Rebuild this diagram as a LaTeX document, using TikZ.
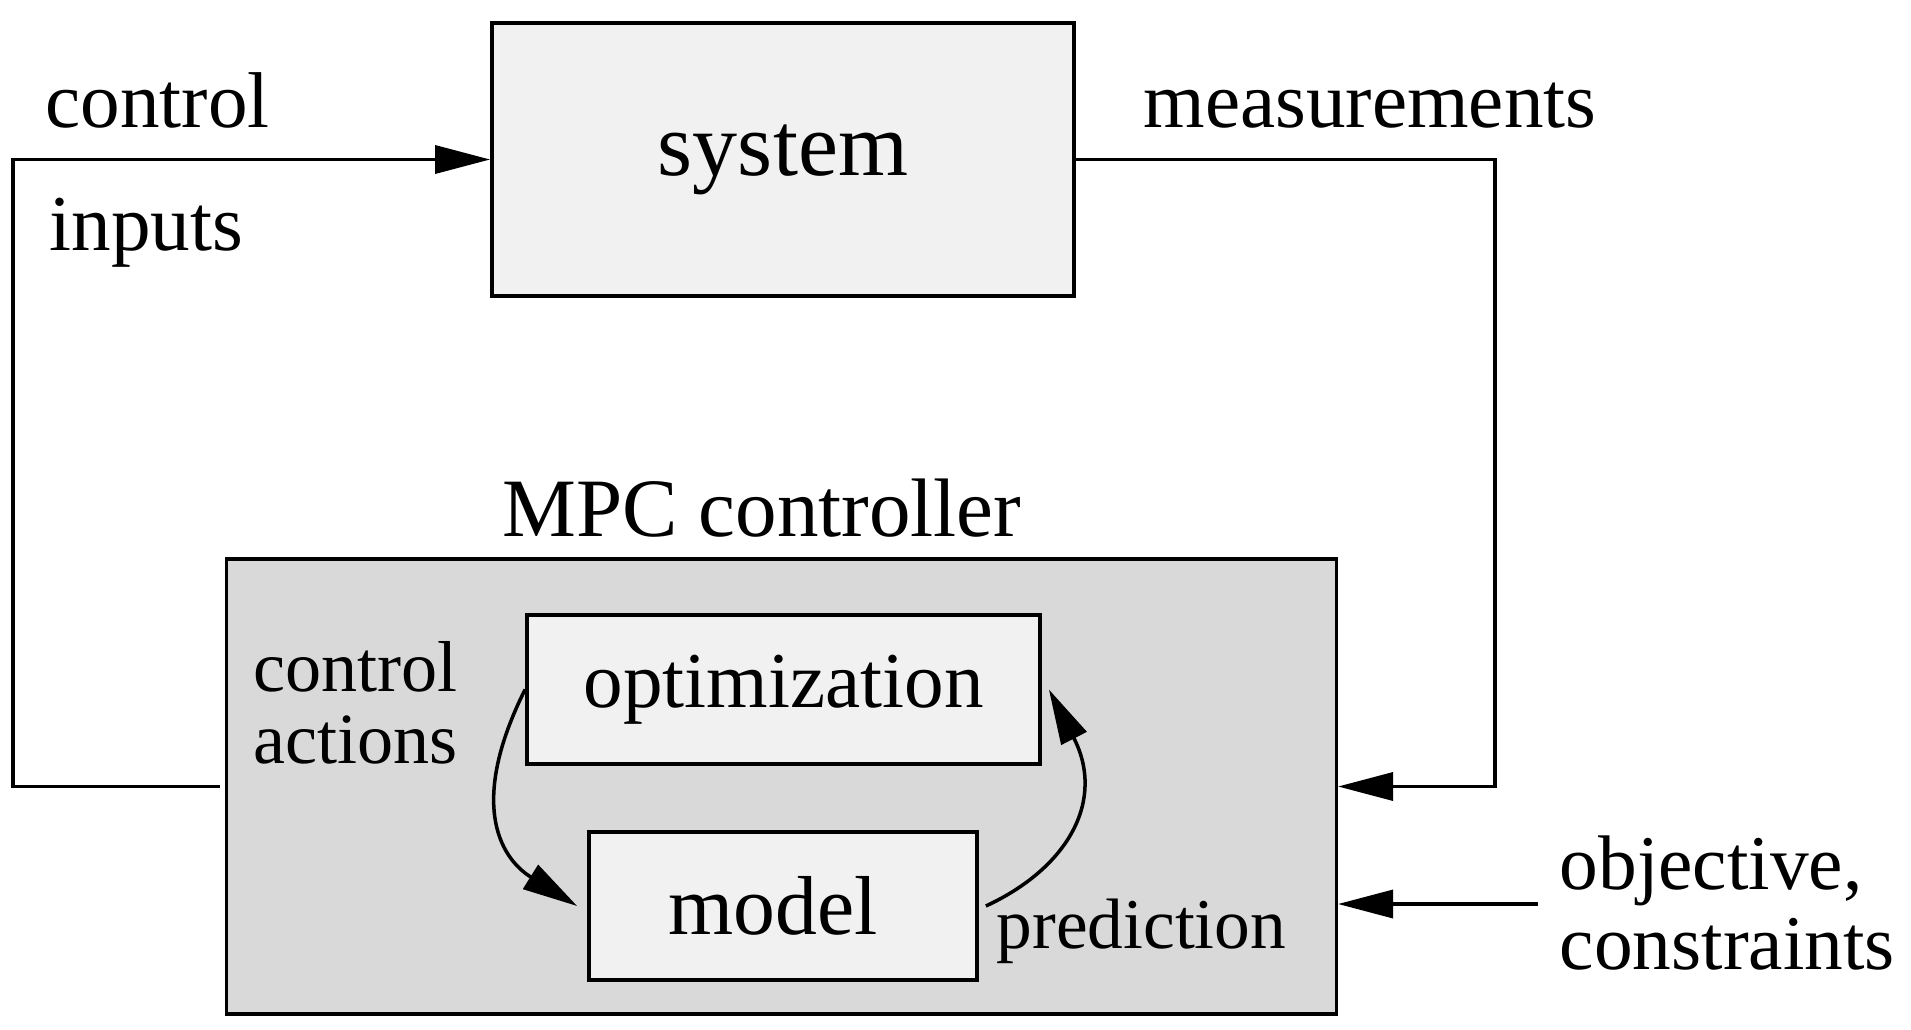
\documentclass[tikz,border=0pt]{standalone}
\usepackage{fontspec}
\setmainfont{Liberation Serif}
\usetikzlibrary{arrows.meta}
\definecolor{hellgrau}{gray}{0.945}
\definecolor{mpcgrau}{gray}{0.85}
\tikzset{
	block/.style={draw=black, line width=1pt, fill=hellgrau, inner sep=0pt},
	pfeil/.style={line width=1pt, -{Triangle[length=5.5mm,width=2.8mm]}},
	txt/.style={inner sep=0pt, font=\fontsize{22.5}{26}\selectfont},
}
\begin{document}
\begin{tikzpicture}[x=0.01cm, y=-0.01cm]
	\useasboundingbox (0,0) rectangle (1911,1030);
	% Bloecke
	\node[block, minimum width=5.82cm, minimum height=2.73cm] (sys) at (783,159.5)
	{\fontsize{25.6}{30}\selectfont system};
	\node[block, fill=mpcgrau, minimum width=11.09cm, minimum height=4.55cm] (mpc)
	at (781.5,786.5) {};
	\node[block, minimum width=5.13cm, minimum height=1.49cm] (opt) at (783.5,689.5)
	{\fontsize{22.5}{26}\selectfont optimization};
	\node[block, minimum width=3.88cm, minimum height=1.48cm] (mdl) at (783,906)
	{\fontsize{23.8}{28}\selectfont model\kern0.2cm};
	% Beschriftungen
	\node[txt, anchor=base west] (ctltxt) at (45,127) {control};
	\node[txt, anchor=base west] (inptxt) at (49,250) {inputs};
	\node[txt, anchor=base west] (meastxt) at (1143,127) {measurements};
	\node[txt, anchor=base, font=\fontsize{23.6}{28}\selectfont] (mpctxt) at (762,536)
	{MPC controller};
	\node[txt, anchor=base west, align=left, font=\fontsize{20.5}{20.2}\selectfont]
	(acttxt) at (253,763) {control\\actions};
	\node[txt, anchor=base west, font=\fontsize{20.3}{24}\selectfont] (predtxt)
	at (996,948) {prediction};
	\node[txt, anchor=base west, align=left, font=\fontsize{22}{22.5}\selectfont]
	(objtxt) at (1559,969) {objective,\\constraints};
	% Eckpunkte
	\coordinate (ecklinks) at (13,160);
	\coordinate (eckrechts) at (1495,160);
	\coordinate (objstart) at (1538,904);
	% Verbindungen
	\draw[pfeil] ([xshift=-0.05cm]mpc.west) -| (ecklinks) |- (sys.west);
	\draw[pfeil] (sys.east) -| (eckrechts) |- (mpc.east);
	\draw[pfeil] (objstart) -- (objstart -| mpc.east);
	\draw[pfeil] (opt.west) .. controls +(-55,110) and +(-80,-50) ..
	([xshift=-0.1cm]mdl.west);
	\draw[pfeil] ([xshift=0.07cm]mdl.east) .. controls +(82,-38) and +(57,111) ..
	([xshift=0.07cm]opt.east);
\end{tikzpicture}
\end{document}
